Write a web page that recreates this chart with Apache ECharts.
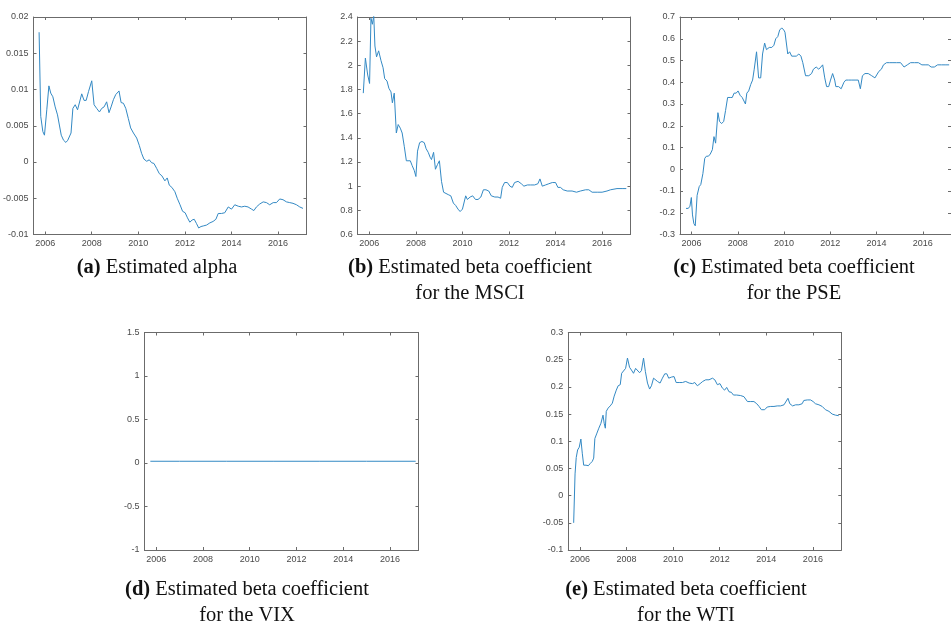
<!DOCTYPE html>
<html><head><meta charset="utf-8">
<script src="https://cdn.jsdelivr.net/npm/echarts@6/dist/echarts.min.js"></script>
<style>html,body{margin:0;padding:0;background:#fff}#c{width:951px;height:632px}</style>
</head><body><div id="c"></div>
<script>
// ---------- data ----------
const yearTicks = [2006, 2008, 2010, 2012, 2014, 2016];

const alphaDates = [2005.74,2005.81,2005.9,2005.97,2006.07,2006.16,2006.24,2006.33,2006.43,2006.53,
2006.61,2006.69,2006.79,2006.89,2006.97,2007.04,2007.11,2007.19,2007.29,2007.39,
2007.47,2007.57,2007.67,2007.76,2007.86,2008.0,2008.1,2008.21,2008.33,2008.43,
2008.53,2008.64,2008.74,2008.83,2008.93,2009.03,2009.17,2009.26,2009.36,2009.46,
2009.57,2009.67,2009.79,2009.93,2010.04,2010.14,2010.24,2010.36,2010.47,2010.57,
2010.67,2010.79,2010.9,2011.01,2011.14,2011.24,2011.33,2011.44,2011.57,2011.67,
2011.79,2011.9,2012.01,2012.11,2012.21,2012.31,2012.4,2012.5,2012.59,2012.69,
2012.81,2012.93,2013.07,2013.21,2013.33,2013.43,2013.57,2013.71,2013.86,2014.0,
2014.14,2014.29,2014.43,2014.57,2014.71,2014.86,2014.96,2015.07,2015.21,2015.36,
2015.5,2015.64,2015.79,2015.93,2016.07,2016.21,2016.36,2016.5,2016.64,2016.79,
2016.93,2017.07];
const alphaValues = [0.0179,0.0063,0.0042,0.0037,0.0072,0.0105,0.0095,0.009,0.0076,0.0065,
0.0051,0.0037,0.003,0.0027,0.003,0.0028,0.004,0.0074,0.0079,0.0072,
0.0074,0.0094,0.0085,0.0085,0.0097,0.0112,0.0079,0.0074,0.0069,0.0074,
0.0076,0.0083,0.0068,0.0076,0.0086,0.0093,0.0098,0.0082,0.0081,0.0074,
0.006,0.0047,0.004,0.0033,0.0023,0.0012,0.0004,0.0001,0.0003,-0.0001,
-0.0002,-0.0009,-0.0016,-0.0019,-0.0026,-0.0022,-0.0032,-0.0035,-0.0041,-0.005,
-0.0059,-0.0068,-0.007,-0.0077,-0.0083,-0.008,-0.0079,-0.0085,-0.0091,-0.0089,
-0.0088,-0.0087,-0.0084,-0.0082,-0.0079,-0.0071,-0.0071,-0.007,-0.0062,-0.0065,
-0.0059,-0.0061,-0.0062,-0.0061,-0.0062,-0.0065,-0.0067,-0.0062,-0.0058,-0.0055,
-0.0056,-0.0059,-0.0056,-0.0056,-0.0051,-0.0052,-0.0055,-0.0056,-0.0057,-0.0059,
-0.0062,-0.0064];

const msciDates = [2005.74,2005.83,2005.93,2006.01,2006.07,2006.13,2006.19,2006.24,2006.31,2006.4,
2006.5,2006.59,2006.66,2006.76,2006.84,2006.93,2006.99,2007.07,2007.16,2007.24,
2007.33,2007.41,2007.5,2007.59,2007.67,2007.76,2007.84,2007.93,2008.0,2008.07,
2008.16,2008.26,2008.36,2008.44,2008.53,2008.61,2008.67,2008.76,2008.84,2008.93,
2009.01,2009.1,2009.19,2009.27,2009.39,2009.5,2009.61,2009.71,2009.81,2009.9,
2010.0,2010.07,2010.14,2010.21,2010.33,2010.44,2010.56,2010.67,2010.79,2010.9,
2011.01,2011.13,2011.24,2011.39,2011.53,2011.64,2011.71,2011.81,2011.93,2012.04,
2012.14,2012.24,2012.39,2012.53,2012.64,2012.79,2012.93,2013.1,2013.24,2013.33,
2013.43,2013.57,2013.71,2013.86,2014.0,2014.1,2014.21,2014.33,2014.5,2014.71,
2014.9,2015.07,2015.29,2015.43,2015.57,2015.79,2016.0,2016.21,2016.36,2016.43,
2016.64,2016.86,2017.04];
const msciValues = [1.77,2.06,1.92,1.85,2.39,2.34,2.41,2.16,2.07,2.12,
2.04,1.98,1.89,1.87,1.81,1.78,1.69,1.77,1.44,1.51,
1.48,1.44,1.33,1.21,1.22,1.21,1.17,1.13,1.08,1.29,
1.36,1.37,1.36,1.31,1.28,1.24,1.22,1.28,1.14,1.18,
1.21,1.04,0.95,0.94,0.93,0.92,0.86,0.84,0.81,0.79,
0.81,0.81,0.92,0.89,0.91,0.92,0.89,0.89,0.91,0.97,
0.97,0.96,0.92,0.91,0.91,0.90,0.99,1.03,1.03,1.0,
0.99,1.03,1.04,1.02,1.0,1.01,1.01,1.01,1.02,1.06,
1.0,1.01,1.02,1.03,1.03,0.99,0.99,0.97,0.96,0.96,
0.95,0.96,0.97,0.97,0.95,0.95,0.95,0.96,0.97,0.97,
0.98,0.98,0.98];

const pseDates = [2005.76,2005.86,2005.93,2005.99,2006.04,2006.1,2006.16,2006.24,2006.33,2006.4,
2006.49,2006.57,2006.64,2006.73,2006.81,2006.9,2006.97,2007.04,2007.14,2007.21,
2007.3,2007.39,2007.47,2007.56,2007.67,2007.76,2007.84,2007.93,2008.01,2008.1,
2008.19,2008.27,2008.33,2008.39,2008.47,2008.56,2008.64,2008.71,2008.81,2008.9,
2008.99,2009.07,2009.16,2009.24,2009.36,2009.47,2009.56,2009.64,2009.73,2009.81,
2009.9,2009.99,2010.04,2010.1,2010.16,2010.24,2010.33,2010.43,2010.53,2010.64,
2010.73,2010.81,2010.93,2011.07,2011.19,2011.27,2011.39,2011.5,2011.59,2011.67,
2011.76,2011.84,2011.93,2012.01,2012.1,2012.19,2012.24,2012.36,2012.47,2012.59,
2012.67,2012.79,2012.93,2013.07,2013.21,2013.3,2013.39,2013.5,2013.64,2013.79,
2013.93,2014.0,2014.1,2014.21,2014.3,2014.43,2014.57,2014.71,2014.86,2015.04,
2015.19,2015.33,2015.47,2015.64,2015.81,2015.96,2016.1,2016.24,2016.36,2016.5,
2016.64,2016.81,2017.0,2017.14];
const pseValues = [-0.18,-0.18,-0.17,-0.13,-0.21,-0.25,-0.26,-0.12,-0.08,-0.07,
-0.02,0.05,0.06,0.06,0.07,0.09,0.15,0.12,0.26,0.22,
0.21,0.22,0.27,0.33,0.33,0.33,0.35,0.35,0.36,0.34,
0.33,0.33,0.3,0.35,0.36,0.39,0.41,0.46,0.54,0.42,
0.42,0.53,0.58,0.55,0.56,0.56,0.57,0.6,0.61,0.64,
0.65,0.64,0.63,0.63,0.53,0.54,0.52,0.52,0.52,0.53,
0.52,0.49,0.43,0.43,0.44,0.46,0.47,0.46,0.47,0.48,
0.42,0.38,0.38,0.41,0.44,0.41,0.38,0.38,0.37,0.4,
0.41,0.41,0.41,0.41,0.41,0.37,0.43,0.44,0.44,0.43,
0.42,0.42,0.45,0.46,0.48,0.49,0.49,0.49,0.49,0.49,
0.47,0.48,0.49,0.49,0.49,0.48,0.48,0.48,0.47,0.47,
0.48,0.48,0.48,0.48];

const vixDates = [2005.75,2007,2009,2011,2013,2015,2017.1];
const vixValues = [0.02,0.02,0.02,0.02,0.02,0.02,0.02];

const wtiDates = [2005.73,2005.79,2005.84,2005.9,2005.97,2006.04,2006.1,2006.16,2006.26,2006.36,
2006.44,2006.53,2006.59,2006.64,2006.73,2006.81,2006.9,2006.99,2007.04,2007.09,
2007.13,2007.21,2007.3,2007.39,2007.47,2007.56,2007.64,2007.73,2007.79,2007.87,
2007.96,2008.04,2008.13,2008.21,2008.3,2008.39,2008.47,2008.56,2008.64,2008.73,
2008.81,2008.9,2008.99,2009.07,2009.16,2009.24,2009.33,2009.44,2009.54,2009.64,
2009.73,2009.81,2009.93,2010.04,2010.13,2010.26,2010.4,2010.54,2010.69,2010.83,
2010.93,2011.04,2011.16,2011.27,2011.4,2011.54,2011.69,2011.79,2011.9,2012.01,
2012.11,2012.21,2012.3,2012.4,2012.5,2012.59,2012.73,2012.9,2013.04,2013.19,
2013.33,2013.47,2013.59,2013.69,2013.79,2013.93,2014.04,2014.19,2014.33,2014.47,
2014.61,2014.76,2014.84,2014.93,2015.01,2015.13,2015.26,2015.4,2015.54,2015.61,
2015.76,2015.9,2016.01,2016.11,2016.26,2016.4,2016.54,2016.69,2016.83,2016.97,
2017.11];
const wtiValues = [-0.05,0.04,0.07,0.084,0.089,0.104,0.078,0.056,0.056,0.055,
0.059,0.063,0.069,0.105,0.115,0.124,0.133,0.148,0.133,0.124,
0.155,0.161,0.165,0.17,0.183,0.194,0.202,0.204,0.225,0.222,
0.234,0.253,0.236,0.231,0.225,0.234,0.231,0.226,0.23,0.253,
0.228,0.207,0.196,0.202,0.216,0.213,0.21,0.207,0.216,0.224,
0.224,0.216,0.218,0.219,0.208,0.208,0.208,0.21,0.207,0.206,
0.208,0.202,0.206,0.21,0.213,0.213,0.216,0.213,0.204,0.206,
0.198,0.194,0.199,0.191,0.19,0.185,0.185,0.184,0.182,0.173,
0.173,0.173,0.169,0.164,0.158,0.158,0.163,0.164,0.164,0.165,
0.165,0.167,0.17,0.179,0.169,0.165,0.167,0.167,0.169,0.175,
0.176,0.176,0.173,0.169,0.167,0.164,0.158,0.155,0.15,0.148,
0.147];

// ---------- layout / style ----------
const X_MIN = 2005.5, X_MAX = 2017.22;
const AXIS_COLOR = '#6b6b6b';
const LABEL_COLOR = '#4a4a4a';
const LINE_COLOR = '#3389c4';
const SANS = '"Liberation Sans", Arial, Helvetica, sans-serif';
const SERIF = '"Liberation Serif", "Times New Roman", serif';
const CAP_SIZE = 20.5;

const panels = [
  {box:{left:32.5, top:17, width:274, height:217.5}, y:[-0.01,0.02,0.005], d:alphaDates, v:alphaValues},
  {box:{left:357.7, top:17, width:272.8, height:217.5}, y:[0.6,2.4,0.2], d:msciDates, v:msciValues},
  {box:{left:680, top:17, width:273.5, height:217.5}, y:[-0.3,0.7,0.1], d:pseDates, v:pseValues},
  {box:{left:144.5, top:332.5, width:274, height:217.5}, y:[-1,1.5,0.5], d:vixDates, v:vixValues},
  {box:{left:568.3, top:332.5, width:273, height:217.5}, y:[-0.1,0.3,0.05], d:wtiDates, v:wtiValues}
];

const grid = [], xAxis = [], yAxis = [], series = [];
const lineAx = {show:true, onZero:false, lineStyle:{color:AXIS_COLOR, width:1}};
const tickIn = {show:true, inside:true, length:3, lineStyle:{color:AXIS_COLOR, width:1}};
panels.forEach((p, i) => {
  grid.push(Object.assign({containLabel:false}, p.box));
  const xBase = {type:'value', gridIndex:i, min:X_MIN, max:X_MAX, splitLine:{show:false}, axisLine:lineAx};
  xAxis.push(Object.assign({}, xBase, {position:'bottom',
    axisTick:Object.assign({customValues:yearTicks}, tickIn),
    axisLabel:{customValues:yearTicks, color:LABEL_COLOR, fontSize:9, fontFamily:SANS, margin:5,
      formatter:v => String(Math.round(v))}}));
  xAxis.push(Object.assign({}, xBase, {position:'top',
    axisTick:Object.assign({customValues:yearTicks}, tickIn),
    axisLabel:{show:false}}));
  const yBase = {type:'value', gridIndex:i, min:p.y[0], max:p.y[1], interval:p.y[2],
    splitLine:{show:false}, axisLine:lineAx, axisTick:tickIn};
  yAxis.push(Object.assign({}, yBase, {position:'left',
    axisLabel:{color:LABEL_COLOR, fontSize:9, fontFamily:SANS, margin:5, showMinLabel:true, showMaxLabel:true,
      formatter:v => String(parseFloat(v.toFixed(4)))}}));
  yAxis.push(Object.assign({}, yBase, {position:'right', axisLabel:{show:false}}));
  series.push({type:'line', xAxisIndex:2*i, yAxisIndex:2*i, showSymbol:false, symbol:'none',
    lineStyle:{color:LINE_COLOR, width:1}, clip:true, animation:false,
    data:p.d.map((x, k) => [x, p.v[k]])});
});

// captions
const captions = [
  {x:157, y:268, tag:'(a)', l1:' Estimated alpha', l2:''},
  {x:470, y:268, tag:'(b)', l1:' Estimated beta coefficient', l2:'for the MSCI'},
  {x:794, y:268, tag:'(c)', l1:' Estimated beta coefficient', l2:'for the PSE'},
  {x:247, y:590, tag:'(d)', l1:' Estimated beta coefficient', l2:'for the VIX'},
  {x:686, y:590, tag:'(e)', l1:' Estimated beta coefficient', l2:'for the WTI'}
];
const graphic = [];
captions.forEach(c => {
  graphic.push({type:'text', x:c.x, y:c.y, style:{
    text:'{b|' + c.tag + '}{n|' + c.l1 + '}', align:'center', verticalAlign:'middle',
    rich:{b:{fontFamily:SERIF, fontSize:CAP_SIZE, fontWeight:'bold', fill:'#111'},
          n:{fontFamily:SERIF, fontSize:CAP_SIZE, fill:'#111'}}}});
  if (c.l2) graphic.push({type:'text', x:c.x, y:c.y + 26, style:{
    text:c.l2, align:'center', verticalAlign:'middle', fontFamily:SERIF, fontSize:CAP_SIZE, fill:'#111'}});
});

const chart = echarts.init(document.getElementById('c'), null, {renderer:'canvas'});
chart.setOption({animation:false, backgroundColor:'#fff', grid, xAxis, yAxis, series, graphic});
</script></body></html>
